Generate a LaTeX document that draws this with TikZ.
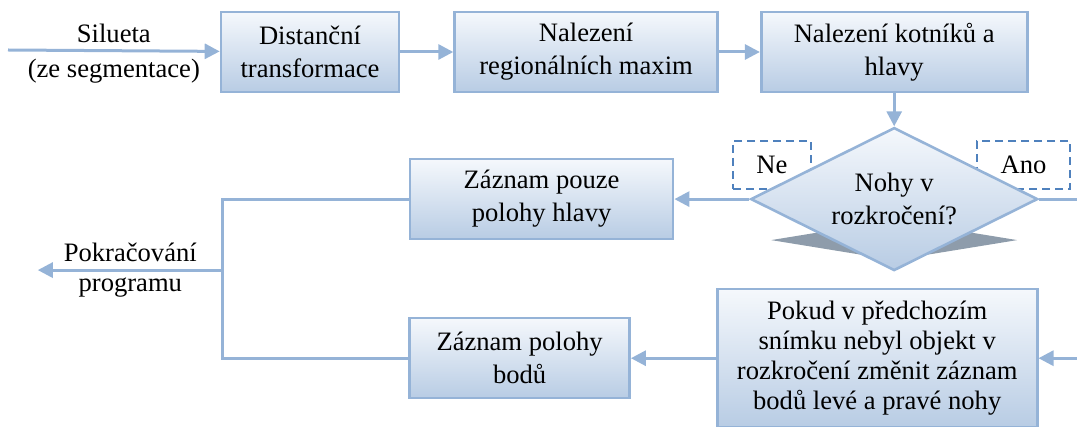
\documentclass[tikz,border=0pt]{standalone}
\usepackage{fontspec}
\setmainfont{Liberation Serif}
\usepackage{tikz}
\usetikzlibrary{shapes.geometric, arrows.meta, positioning, calc, backgrounds}
\definecolor{linecol}{HTML}{95B3D7}
\definecolor{boxtop}{HTML}{F5F8FC}
\definecolor{boxbottom}{HTML}{B8CCE4}
\definecolor{dashcol}{HTML}{4F81BD}
\definecolor{shadowcol}{HTML}{8E9CAB}
\newcommand{\diagfont}{\fontsize{13.3}{16.5}\selectfont}
\tikzset{
  process/.style={
    rectangle, minimum height=40pt, inner sep=2pt,
    align=center, draw=linecol, line width=1.3pt,
    top color=boxtop, bottom color=boxbottom,
  },
  decision/.style={
    diamond, aspect=2, minimum width=143.5pt, minimum height=71.5pt, inner sep=0pt,
    align=center, draw=linecol, line width=1.3pt,
    top color=boxtop, bottom color=boxbottom,
  },
  answer/.style={
    rectangle, minimum height=24pt,
    draw=dashcol, line width=1.1pt, dash pattern=on 4pt off 2.5pt,
  },
  arrow/.style={-{Triangle[length=7.5pt,width=7.5pt]}, line width=1.5pt, draw=linecol},
  link/.style={line width=1.5pt, draw=linecol},
}

\begin{document}
\begin{tikzpicture}[x=0.5pt, y=-0.5pt, font=\diagfont]

  \useasboundingbox (0,0) rectangle (1077,427);

  \node[process, minimum width=89pt] (dist) at (310,52) {Distanční\\transformace};
  \node[process, minimum width=131.5pt, right=26.5pt of dist] (maxim) {Nalezení\\regionálních maxim};
  \node[process, minimum width=133pt, right=20.5pt of maxim] (kotnik) {Nalezení kotníků a\\hlavy};

  \node[answer, minimum width=39pt] (ne) at (772,165) {Ne};
  \node[answer, minimum width=46.5pt] (ano) at (1023.5,165) {Ano};

  \node[decision, below=16.5pt of kotnik] (rozkrok) {Nohy v\\rozkročení?};
  \node[process, minimum width=131.5pt, left=37.5pt of rozkrok] (hlava) {Záznam pouze\\polohy hlavy};
  \node[process, minimum width=160pt, minimum height=69pt, below=8pt of rozkrok, xshift=-8.5pt,
        font=\fontsize{13.3}{15}\selectfont] (pokud)
        {Pokud v předchozím\\snímku nebyl objekt v\\rozkročení změnit záznam\\bodů levé a pravé nohy};
  \node[process, minimum width=110pt, left=42.5pt of pokud] (body) {Záznam polohy\\bodů};

  % shadow of the decision
  \begin{scope}[on background layer]
    \fill[shadowcol] ($(rozkrok.center)+(-123,41)$) -- ($(rozkrok.center)+(0,21)$)
      -- ($(rozkrok.center)+(123,41)$) -- ($(rozkrok.center)+(0,61)$) -- cycle;
  \end{scope}

  \coordinate (start) at (8,50);
  \coordinate[left=93pt of hlava.west] (jtop);
  \coordinate (jmid) at ($(jtop)+(0,71)$);
  \coordinate (finish) at ($(jmid)+(-185,0)$);
  \coordinate (rside) at ($(rozkrok.east)+(53,0)$);

  \draw[arrow] (start) -- node[above]{Silueta} node[below]{(ze segmentace)} (dist);
  \draw[arrow] (dist) -- (maxim);
  \draw[arrow] (maxim) -- (kotnik);
  \draw[arrow] (kotnik) -- (rozkrok);
  \draw[arrow] (rozkrok) -- (hlava);
  \draw[arrow] (rozkrok.east) -- (rside) |- (pokud.east);
  \draw[arrow] (pokud) -- (body);
  \draw[link] (hlava.west) -- (jtop) |- (body.west);
  \draw[arrow] (jmid) -- node[above]{Pokračování} node[below]{programu} (finish);

\end{tikzpicture}
\end{document}
